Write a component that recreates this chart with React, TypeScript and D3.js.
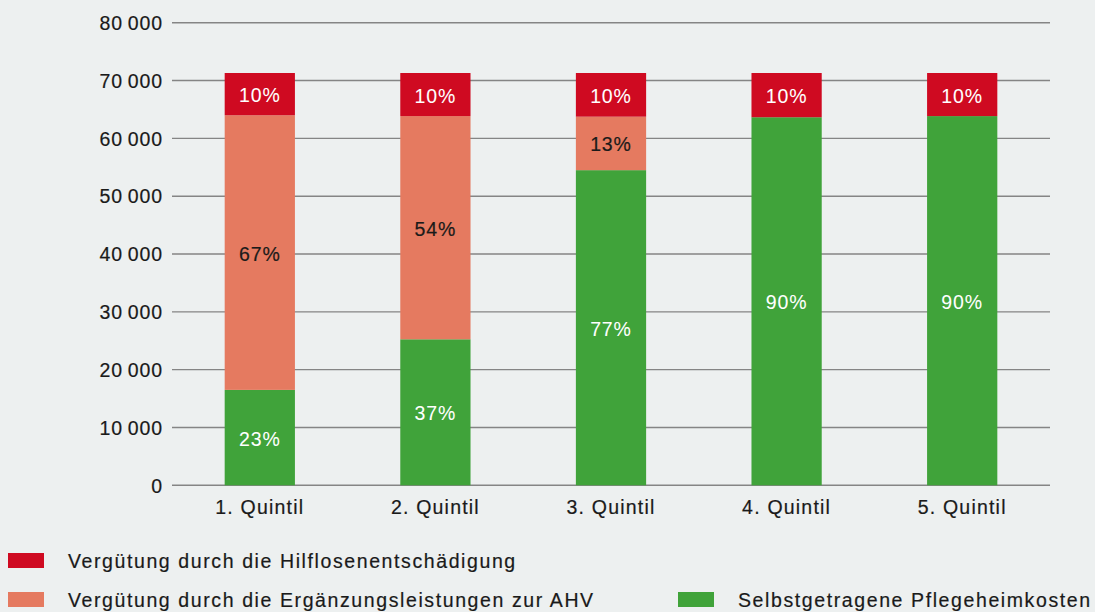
import React from "react";
import * as d3 from "d3";

const categories = ["1. Quintil", "2. Quintil", "3. Quintil", "4. Quintil", "5. Quintil"];
const selbst = [16500, 25250, 54500, 63650, 63850];
const ergaenzung = [47500, 38600, 9250, 0, 0];
const hilflosen = [7300, 7450, 7550, 7650, 7450];
const selbstLabels = ["23%", "37%", "77%", "90%", "90%"];
const ergaenzungLabels = ["67%", "54%", "13%", "", ""];
const hilflosenLabels = ["10%", "10%", "10%", "10%", "10%"];
const yTicks = [0, 10000, 20000, 30000, 40000, 50000, 60000, 70000, 80000];
const legendNames = [
  "Vergütung durch die Hilflosenentschädigung",
  "Vergütung durch die Ergänzungsleistungen zur AHV",
  "Selbstgetragene Pflegeheimkosten",
];

const W = 1095;
const H = 612;
const BG = "#edf0f0";
const RED = "#cf0a21";
const ORANGE = "#e57a60";
const GREEN = "#40a33a";
const INK = "#1a1a1a";
const FONT = "'Liberation Sans', Arial, Helvetica, sans-serif";

const locale = d3.formatLocale({ decimal: ".", thousands: "\u2009", grouping: [3], currency: ["", ""] });
const fmt = locale.format(",d");

export default function App() {
  React.useEffect(() => {
    document.body.style.margin = "0";
  }, []);

  const x = d3.scaleBand<string>().domain(categories).range([172, 1050]).paddingInner(0.6).paddingOuter(0.3);
  const y = d3.scaleLinear().domain([0, 80000]).range([485.3, 22.7]);

  const rows = categories.map((c, i) => ({
    c,
    segs: [
      { v0: 0, v1: selbst[i], color: GREEN, label: selbstLabels[i], tc: "#ffffff" },
      { v0: selbst[i], v1: selbst[i] + ergaenzung[i], color: ORANGE, label: ergaenzungLabels[i], tc: INK },
      {
        v0: selbst[i] + ergaenzung[i],
        v1: selbst[i] + ergaenzung[i] + hilflosen[i],
        color: RED,
        label: hilflosenLabels[i],
        tc: "#ffffff",
      },
    ],
  }));

  const legend = [
    { name: legendNames[0], color: RED, x: 8, y: 553 },
    { name: legendNames[1], color: ORANGE, x: 8, y: 592 },
    { name: legendNames[2], color: GREEN, x: 678, y: 592 },
  ];

  const thick = (c: string, w = 0.2) => ({ stroke: c, strokeWidth: w, fill: c });

  return (
    <svg width={W} height={H} style={{ display: "block", fontFamily: FONT }}>
      <rect x={0} y={0} width={W} height={H} fill={BG} />
      {yTicks.map((t) => (
        <g key={t}>
          <line x1={172} x2={1050} y1={y(t)} y2={y(t)} stroke="#858585" strokeWidth={1.4} />
          <text x={163} y={y(t) + 7.2} textAnchor="end" fontSize={19.5} letterSpacing={0.9} {...thick(INK)}>
            {fmt(t)}
          </text>
        </g>
      ))}
      {rows.map((r) => (
        <g key={r.c}>
          {r.segs.map((s, j) =>
            s.v1 > s.v0 ? (
              <g key={j}>
                <rect
                  x={x(r.c)!}
                  width={x.bandwidth()}
                  y={y(s.v1)}
                  height={y(s.v0) - y(s.v1)}
                  fill={s.color}
                />
                {s.label && (
                  <text
                    x={x(r.c)! + x.bandwidth() / 2}
                    y={(y(s.v0) + y(s.v1)) / 2 + 8}
                    textAnchor="middle"
                    fontSize={19.5}
                    letterSpacing={0.9}
                    {...thick(s.tc, s.tc === INK ? 0.2 : 0.05)}
                  >
                    {s.label}
                  </text>
                )}
              </g>
            ) : null
          )}
          <text
            x={x(r.c)! + x.bandwidth() / 2}
            y={513.5}
            textAnchor="middle"
            fontSize={19.5}
            letterSpacing={1.2}
            {...thick(INK)}
          >
            {r.c}
          </text>
        </g>
      ))}
      {legend.map((l) => (
        <g key={l.name}>
          <rect x={l.x} y={l.y} width={36} height={15} fill={l.color} />
          <text x={l.x + 60} y={l.y + 14.8} fontSize={19.5} letterSpacing={1.6} {...thick(INK)}>
            {l.name}
          </text>
        </g>
      ))}
    </svg>
  );
}
